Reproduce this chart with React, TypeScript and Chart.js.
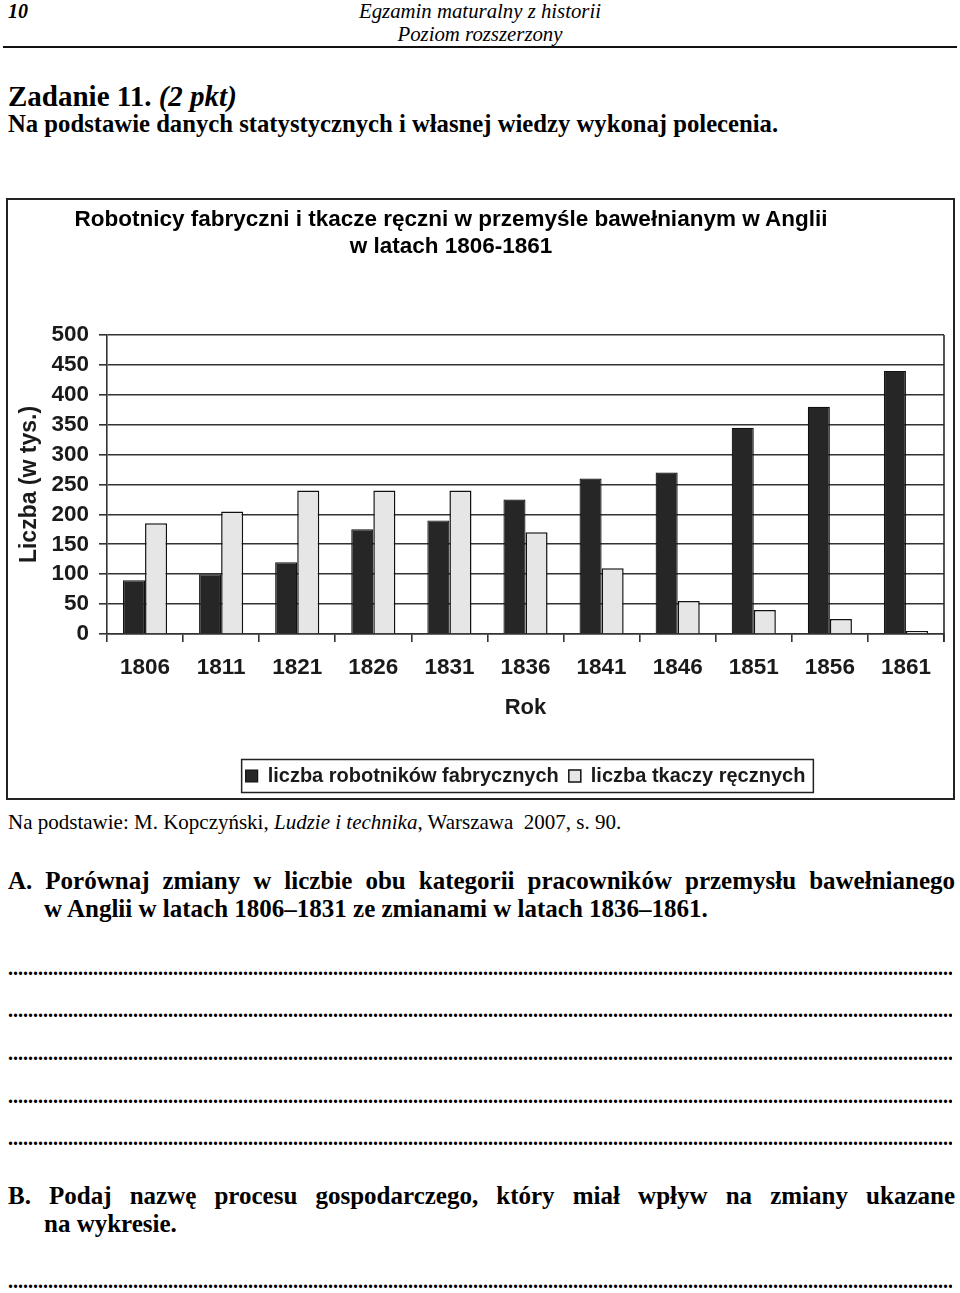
import React, { useEffect, useRef } from 'react';
import { Chart, registerables } from 'chart.js';

Chart.register(...registerables);

// ---- data ----
const years = ['1806', '1811', '1821', '1826', '1831', '1836', '1841', '1846', '1851', '1856', '1861'];
const factoryWorkers = [90, 100, 120, 175, 190, 225, 260, 270, 345, 380, 440];
const handWeavers = [185, 205, 240, 240, 240, 170, 110, 55, 40, 25, 5];
const seriesLabels = ['liczba robotników fabrycznych', 'liczba tkaczy ręcznych'];
const yMin = 0;
const yMax = 500;
const yStep = 50;
const chartTitleLines = ['Robotnicy fabryczni i tkacze ręczni w przemyśle bawełnianym w Anglii', 'w latach 1806-1861'];
const yAxisTitle = 'Liczba (w tys.)';
const xAxisTitle = 'Rok';

const SANS = '"Liberation Sans", Arial, sans-serif';
const SERIF = '"Liberation Serif", "Times New Roman", serif';

const framePlugin = {
  id: 'frameAndLegendBox',
  beforeDraw(chart: any) {
    const { ctx, width, height } = chart;
    ctx.save();
    ctx.fillStyle = '#ffffff';
    ctx.fillRect(0, 0, width, height);
    ctx.restore();
  },
  afterDraw(chart: any) {
    const { ctx, chartArea: a, legend, width, height } = chart;
    ctx.save();
    ctx.strokeStyle = '#2a2a2a';
    ctx.lineWidth = 1.6;
    ctx.beginPath();
    ctx.moveTo(a.right, a.top);
    ctx.lineTo(a.right, a.bottom + 8);
    ctx.stroke();
    ctx.lineWidth = 2;
    ctx.strokeStyle = '#222';
    ctx.strokeRect(1, 1, width - 2, height - 2);
    const hb = legend && legend.legendHitBoxes;
    if (hb && hb.length) {
      const first = hb[0];
      const last = hb[hb.length - 1];
      const l = first.left - 4;
      const r = last.left + last.width + 8;
      const mid = first.top + first.height / 2;
      ctx.lineWidth = 1.5;
      ctx.strokeRect(l, mid - 16.5, r - l, 33);
    }
    ctx.restore();
  },
};

function BarChart() {
  const ref = useRef<HTMLCanvasElement | null>(null);
  useEffect(() => {
    if (!ref.current) return;
    const chart = new Chart(ref.current, {
      type: 'bar',
      data: {
        labels: years,
        datasets: [
          {
            label: seriesLabels[0],
            data: factoryWorkers,
            backgroundColor: '#262626',
            borderColor: '#111111',
            borderWidth: 1.2,
            categoryPercentage: 0.58,
            barPercentage: 1,
          },
          {
            label: seriesLabels[1],
            data: handWeavers,
            backgroundColor: '#e6e6e6',
            borderColor: '#111111',
            borderWidth: 1.5,
            categoryPercentage: 0.58,
            barPercentage: 1,
          },
        ],
      },
      options: {
        responsive: false,
        animation: false,
        layout: { padding: { top: 137, left: 0, right: 11, bottom: 4 } },
        plugins: {
          title: { display: false },
          tooltip: { enabled: false },
          legend: {
            position: 'bottom',
            fullSize: false,
            labels: {
              font: { family: SANS, size: 20, weight: 'bold' },
              color: '#1a1a1a',
              boxWidth: 12,
              boxHeight: 12,
              padding: 10,
            },
          },
        },
        scales: {
          x: {
            grid: {
              display: true,
              drawOnChartArea: false,
              drawTicks: true,
              tickLength: 8,
              color: '#333',
              lineWidth: 1.6,
              offset: true,
            },
            border: { display: true, color: '#333', width: 1.6 },
            ticks: {
              font: { family: SANS, size: 22.5, weight: 'bold' },
              color: '#1a1a1a',
              padding: 12,
              maxRotation: 0,
              autoSkip: false,
            },
            title: {
              display: true,
              text: xAxisTitle,
              font: { family: SANS, size: 22, weight: 'bold' },
              color: '#1a1a1a',
              padding: { top: 4, bottom: 35 },
            },
            afterFit: (scale: any) => {
              scale.height = 122;
            },
          },
          y: {
            min: yMin,
            max: yMax,
            ticks: {
              stepSize: yStep,
              autoSkip: false,
              font: { family: SANS, size: 22.5, weight: 'bold' },
              color: '#1a1a1a',
              padding: 10,
            },
            grid: { color: '#333', lineWidth: 1.6, tickLength: 8 },
            border: { display: true, color: '#333', width: 1.6 },
            title: {
              display: true,
              text: yAxisTitle,
              font: { family: SANS, size: 23, weight: 'bold' },
              color: '#1a1a1a',
              padding: { top: 10, bottom: 4 },
            },
            afterFit: (scale: any) => {
              scale.width = 101;
            },
          },
        },
      },
      plugins: [framePlugin],
    } as any);
    return () => chart.destroy();
  }, []);
  return (
    <canvas
      ref={ref}
      width={949}
      height={602}
      style={{ position: 'absolute', left: 6, top: 198, width: 949, height: 602 }}
    />
  );
}

type TProps = {
  x?: number;
  baseline: number;
  size: number;
  bold?: boolean;
  italic?: boolean;
  width?: number;
  align?: 'left' | 'center' | 'justify';
  family?: string;
  children: React.ReactNode;
  overflow?: boolean;
};

function T({ x = 8, baseline, size, bold, italic, width, align = 'left', family = SERIF, children, overflow }: TProps) {
  const top = baseline - 0.8375 * size;
  return (
    <div
      style={{
        position: 'absolute',
        left: x,
        top,
        width: width,
        fontFamily: family,
        fontSize: size,
        lineHeight: `${size}px`,
        fontWeight: bold ? 'bold' : 'normal',
        fontStyle: italic ? 'italic' : 'normal',
        textAlign: align,
        textAlignLast: align === 'justify' ? 'justify' : undefined,
        whiteSpace: align === 'justify' ? 'normal' : 'nowrap',
        overflow: overflow ? 'hidden' : undefined,
        color: '#000',
      }}
    >
      {children}
    </div>
  );
}

const DOTS = '.'.repeat(260);
const dotBaselines = [975, 1017, 1060, 1103, 1145];

export default function App() {
  return (
    <div style={{ position: 'absolute', left: 0, top: 0, width: 960, height: 1293, background: '#fff', overflow: 'hidden' }}>
      <T x={8} baseline={18} size={20} bold italic>10</T>
      <T x={0} width={960} align="center" baseline={18} size={20.8} italic>Egzamin maturalny z historii</T>
      <T x={0} width={960} align="center" baseline={41} size={20.8} italic>Poziom rozszerzony</T>
      <div style={{ position: 'absolute', left: 3, top: 46, width: 954, height: 2, background: '#111' }} />

      <T x={8} baseline={106} size={29} bold>
        Zadanie 11. <span style={{ fontStyle: 'italic' }}>(2 pkt)</span>
      </T>
      <T x={8} baseline={133} size={24.7} bold>Na podstawie danych statystycznych i własnej wiedzy wykonaj polecenia.</T>

      <BarChart />
      <div style={{ position: 'absolute', left: 6, top: 198, width: 949, pointerEvents: 'none' }}>
        <T x={0} width={890} align="center" baseline={29} size={22.5} bold family={SANS}>{chartTitleLines[0]}</T>
        <T x={0} width={890} align="center" baseline={56} size={22.5} bold family={SANS}>{chartTitleLines[1]}</T>
      </div>

      <T x={8} baseline={830} size={21}>
        Na podstawie: M. Kopczyński, <i>Ludzie i technika</i>, Warszawa&nbsp; 2007, s. 90.
      </T>

      <T x={8} width={947} align="justify" baseline={889} size={25} bold>
        A. Porównaj zmiany w liczbie obu kategorii pracowników przemysłu bawełnianego
      </T>
      <T x={44} baseline={917} size={25} bold>w Anglii w latach 1806–1831 ze zmianami w latach 1836–1861.</T>

      {dotBaselines.map((b) => (
        <T key={b} x={8} width={944} baseline={b} size={20} bold overflow>{DOTS}</T>
      ))}

      <T x={8} width={947} align="justify" baseline={1204} size={25} bold>
        B. Podaj nazwę procesu gospodarczego, który miał wpływ na zmiany ukazane
      </T>
      <T x={44} baseline={1232} size={25} bold>na wykresie.</T>
      <T x={8} width={944} baseline={1288} size={20} bold overflow>{DOTS}</T>
    </div>
  );
}
